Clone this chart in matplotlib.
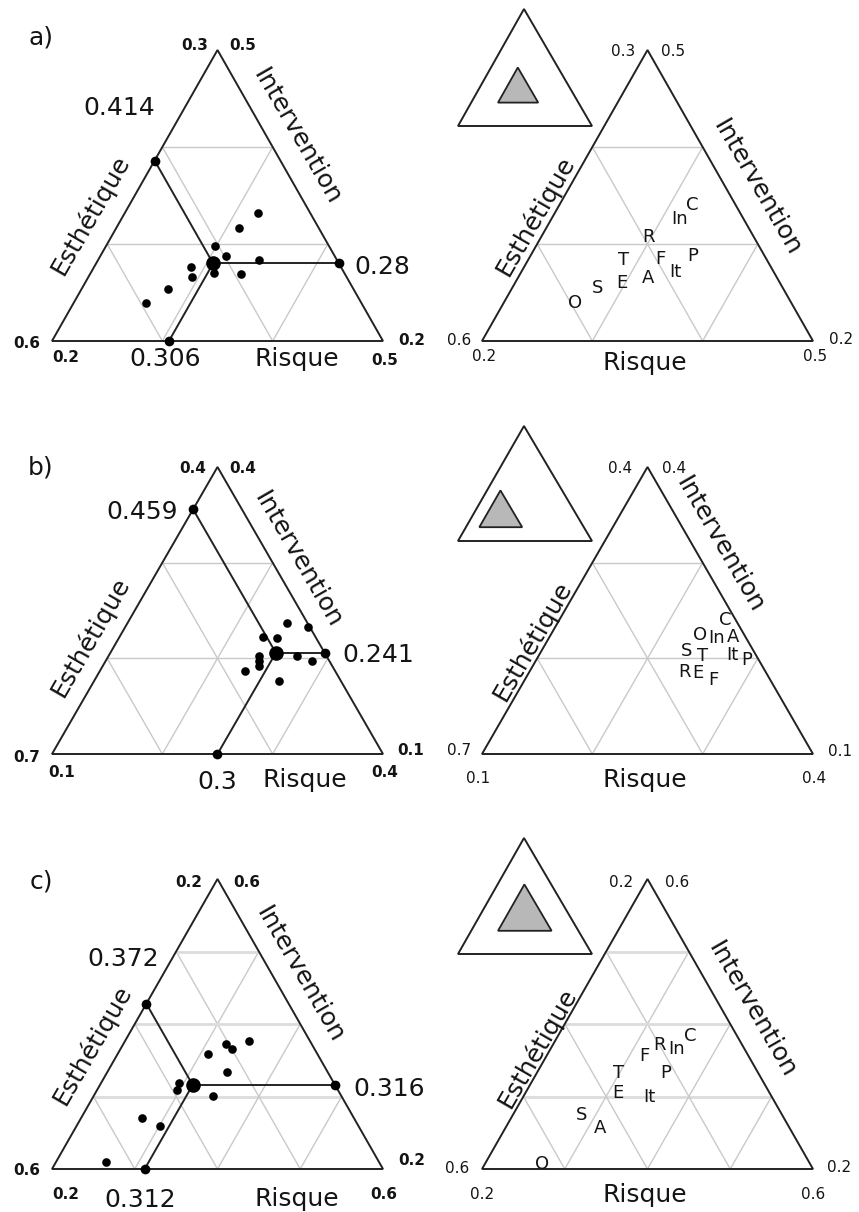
import numpy as np
import matplotlib
matplotlib.use("Agg")
import matplotlib.pyplot as plt
from matplotlib.patches import Polygon

# ---------------- data ----------------
labels = ["O", "S", "E", "T", "A", "R", "F", "It", "P", "In", "C"]

# panel a
esth_a = [0.495, 0.468, 0.440, 0.436, 0.418, 0.403, 0.398, 0.394, 0.370, 0.372, 0.347]
interv_a = [0.239, 0.254, 0.266, 0.276, 0.270, 0.298, 0.288, 0.269, 0.284, 0.317, 0.332]
risque_a = [0.266, 0.278, 0.294, 0.288, 0.312, 0.299, 0.314, 0.337, 0.346, 0.311, 0.321]
mean_a = [0.414, 0.28, 0.306]

# panel b
esth_b = [0.463, 0.481, 0.489, 0.485, 0.402, 0.509, 0.475, 0.436, 0.421, 0.447, 0.424]
interv_b = [0.263, 0.237, 0.222, 0.230, 0.277, 0.216, 0.202, 0.236, 0.230, 0.261, 0.283]
risque_b = [0.274, 0.282, 0.289, 0.285, 0.321, 0.275, 0.323, 0.328, 0.349, 0.292, 0.293]
mean_b = [0.459, 0.241, 0.3]

# panel c
esth_c = [0.530, 0.456, 0.394, 0.387, 0.440, 0.303, 0.332, 0.355, 0.321, 0.300, 0.274]
interv_c = [0.209, 0.271, 0.309, 0.319, 0.259, 0.373, 0.359, 0.301, 0.334, 0.366, 0.376]
risque_c = [0.261, 0.273, 0.297, 0.294, 0.301, 0.324, 0.309, 0.344, 0.345, 0.334, 0.350]
mean_c = [0.372, 0.316, 0.312]

# plotted window of each panel: minimum of (Esthetique, Intervention, Risque) and width
window_min = [(0.3, 0.2, 0.2), (0.4, 0.1, 0.1), (0.2, 0.2, 0.2)]
window_rng = [0.3, 0.4, 0.4]
grid_div = [3, 3, 4]
# window shown in the small inset triangles
inset_min = [(0.3, 0.2, 0.2), (0.46, 0.12, 0.10), (0.2, 0.2, 0.2)]
inset_rng = [0.3, 0.32, 0.4]

# corner tick labels: top-left, top-right, BL-left, BL-below, BR-right, BR-below
corner_labels = [
    ["0.3", "0.5", "0.6", "0.2", "0.2", "0.5"],
    ["0.4", "0.4", "0.7", "0.1", "0.1", "0.4"],
    ["0.2", "0.6", "0.6", "0.2", "0.2", "0.6"],
]
panel_tags = ["a)", "b)", "c)"]
axis_names = ["Esthétique", "Intervention", "Risque"]

# ---------------- layout (pixels) ----------------
W, H = 859, 1212
base_y = [341, 754, 1169]
apex_y = [50, 467, 879]
col_lx = [52, 482]
side = 331

# label nudges (px) for right-hand letter panels
nudges = [
    [(-1, -1.6), (-0.4, -2.3), (0, 4.4), (2.3, -9), (4.3, 3.4), (3.6, -10.7), (4, 1.4), (4, -4), (3.4, -5.3), (11, -10.4), (4.3, -10)],
    [(6.7, -3.4), (-2.6, -6), (9, 5), (14, -6), (-5, 8.3), (10, -0.7), (4.3, -2.4), (5, -3.4), (5, -2.7), (9.4, -1.6), (7.7, -4.4)],
    [(5.7, 0.4), (10, -4.4), (10.6, 1.7), (9.3, -11), (10, 0), (3.6, 0), (6.6, 1), (6.7, 0), (8.7, 0), (15, -1.6), (11, -6.7)],
]

inset_geo = [(9, 126), (426, 541), (838, 954)]  # apex y, base y
inset_x = (458, 524, 592)

TXT = "#141414"
EDGE = "#222222"
GRID = "#c9c9c9"

fig = plt.figure(figsize=(W / 100, H / 100), dpi=100)
ax = fig.add_axes([0, 0, 1, 1])
ax.set_xlim(0, W)
ax.set_ylim(H, 0)
ax.axis("off")


def geo(row, col):
    lx = col_lx[col]
    return dict(lx=lx, rx=lx + side, tx=lx + side / 2, by=base_y[row], ty=apex_y[row])


def nxy(e, i, r, g):
    x = g["lx"] * e + g["rx"] * r + g["tx"] * i
    y = g["by"] * (e + r) + g["ty"] * i
    return x, y


def txy(E, I, R, row, g):
    mn = window_min[row]
    rg = window_rng[row]
    e = (np.asarray(E) - mn[0]) / rg
    i = (np.asarray(I) - mn[1]) / rg
    r = (np.asarray(R) - mn[2]) / rg
    return nxy(e, i, r, g)


def draw_frame(row, col):
    g = geo(row, col)
    n = grid_div[row]
    for k in range(1, n):
        f = k / n
        segs = [((1 - f, f, 0), (0, f, 1 - f)),
                ((f, 1 - f, 0), (f, 0, 1 - f)),
                ((0, 1 - f, f), (1 - f, 0, f))]
        for j, (p0, p1) in enumerate(segs):
            x0, y0 = nxy(*p0, g)
            x1, y1 = nxy(*p1, g)
            thick = (row == 2 and j == 0)
            ax.plot([x0, x1], [y0, y1], color="#dcdcdc" if thick else GRID,
                    lw=2.0 if thick else 1.0, zorder=1, solid_capstyle="butt")
    verts = [(g["lx"], g["by"]), (g["rx"], g["by"]), (g["tx"], g["ty"])]
    ax.add_patch(Polygon(verts, closed=True, fill=False, ec=EDGE, lw=1.4, zorder=2, joinstyle="miter"))
    return g


def txt(x, y, s, size, weight="normal", ha="center", capfrac=0.729):
    # y is the vertical centre of the capitals
    em = size * 100 / 72
    ax.text(x, y + capfrac * em / 2, s, fontsize=size, fontweight=weight, ha=ha,
            va="baseline", color=TXT, zorder=5)


small_pos = [
    # left column: TL, TR, BL-left, BL-below, BR-right, BR-below
    [[(195, 44), (243, 44), (27, 342), (66, 356), (412, 339), (385, 359)],
     [(193, 467), (243, 467), (27, 756), (62, 771), (411, 749), (385, 771)],
     [(189, 881), (247, 881), (27, 1169), (66, 1193), (412, 1159), (384, 1193)]],
    [[(623, 50), (673, 50), (459, 339), (484, 355), (841, 338), (815, 355)],
     [(620, 467), (674, 467), (459, 749), (478, 777), (840, 750), (814, 777)],
     [(621, 881), (677, 881), (457, 1167), (482, 1193), (839, 1166), (813, 1193)]],
]
esth_pos = [[(90, 215), (90, 637), (92, 1045)], [(535, 216), (532, 641), (537, 1048)]]
interv_pos = [[(297, 137), (298, 560), (300, 975)], [(757, 188), (720, 545), (752, 1010)]]
risque_pos = [[(297, 357), (305, 778), (297, 1197)], [(645, 361), (645, 778), (645, 1193)]]
tag_pos = [(41, 37), (41, 466), (41, 881)]
mean_lab_pos = [
    [(119, 106), (382, 265), (165, 357)],
    [(142, 510), (378, 653), (217, 780)],
    [(123, 957), (389, 1087), (140, 1198)],
]

data = [(esth_a, interv_a, risque_a, mean_a),
        (esth_b, interv_b, risque_b, mean_b),
        (esth_c, interv_c, risque_c, mean_c)]

for row in range(3):
    E, I, R, M = data[row]
    mn = window_min[row]
    rg = window_rng[row]
    for col in range(2):
        g = draw_frame(row, col)
        for k, s in enumerate(corner_labels[row]):
            x, y = small_pos[col][row][k]
            txt(x, y, s, 11, weight="bold" if col == 0 else "normal")
        ex, ey = esth_pos[col][row]
        ax.text(ex, ey, axis_names[0], fontsize=18, rotation=60, ha="center", va="center",
                rotation_mode="anchor", color=TXT, zorder=5)
        ix, iy = interv_pos[col][row]
        ax.text(ix, iy, axis_names[1], fontsize=18, rotation=-60, ha="center", va="center",
                rotation_mode="anchor", color=TXT, zorder=5)
        rx_, ry_ = risque_pos[col][row]
        txt(rx_, ry_, axis_names[2], 18)

        if col == 0:
            # individual points
            xs, ys = txy(E, I, R, row, g)
            ax.plot(xs, ys, "o", ms=6.2, color="black", zorder=4, mec="none")
            # mean and its projections
            me = (M[0] - mn[0]) / rg
            mi = (M[1] - mn[1]) / rg
            mr = (M[2] - mn[2]) / rg
            mx, my = nxy(me, mi, mr, g)
            ends = [nxy(me, 1 - me, 0, g), nxy(0, mi, 1 - mi, g), nxy(1 - mr, 0, mr, g)]
            for (x1, y1) in ends:
                ax.plot([mx, x1], [my, y1], color=EDGE, lw=1.4, zorder=3)
                ax.plot([x1], [y1], "o", ms=7, color="black", zorder=4, mec="none")
            ax.plot([mx], [my], "o", ms=10.5, color="black", zorder=4, mec="none")
            for k in range(3):
                x, y = mean_lab_pos[row][k]
                txt(x, y, f"{M[k]:g}", 18)
            tx_, ty_ = tag_pos[row]
            ax.text(tx_, ty_ + 8, panel_tags[row], fontsize=18, ha="center", va="baseline",
                    color=TXT, zorder=5)
        else:
            xs, ys = txy(E, I, R, row, g)
            for k, lab in enumerate(labels):
                dx, dy = nudges[row][k]
                txt(xs[k] + dx, ys[k] + dy, lab, 13)
            # inset triangle showing the window inside the full simplex
            ay, by_ = inset_geo[row]
            ig = dict(lx=inset_x[0], rx=inset_x[2], tx=inset_x[1], by=by_, ty=ay)
            outer = [(ig["lx"], by_), (ig["rx"], by_), (ig["tx"], ay)]
            ax.add_patch(Polygon(outer, closed=True, fc="white", ec=EDGE, lw=1.4, zorder=2))
            imn = inset_min[row]
            irg = inset_rng[row]
            inner_pts = [(imn[0] + irg, imn[1], imn[2]),
                         (imn[0], imn[1], imn[2] + irg),
                         (imn[0], imn[1] + irg, imn[2])]
            inner = [nxy(p[0], p[1], p[2], ig) for p in inner_pts]
            ax.add_patch(Polygon(inner, closed=True, fc="#b8b8b8", ec=EDGE, lw=1.3, zorder=3))

fig.savefig("out.png", dpi=100, facecolor="white")
